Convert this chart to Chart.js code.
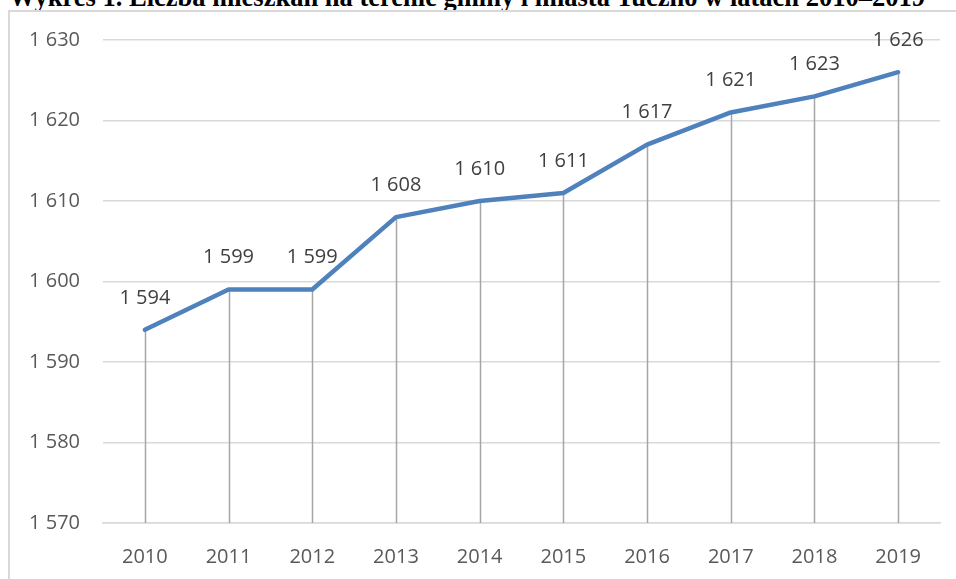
<!DOCTYPE html>
<html>
<head>
<meta charset="utf-8">
<script src="https://cdn.jsdelivr.net/npm/chart.js@4"></script>
<style>
html,body{margin:0;padding:0;background:#fff;overflow:hidden;width:956px;height:579px;}
#title{position:absolute;left:9px;top:-16px;font:bold 26.5px/26.5px "Liberation Serif","Times New Roman",serif;color:#000;white-space:nowrap;}
#box{position:absolute;left:8px;top:10px;width:960px;height:600px;border-left:2px solid #d9d9d9;border-top:2px solid #d9d9d9;}
#wrap{position:absolute;left:10px;top:12px;width:946px;height:567px;}
</style>
</head>
<body>
<div id="title">Wykres 1. Liczba mieszkań na terenie gminy i miasta Tuczno w latach 2010–2019</div>
<div id="box"></div>
<div id="wrap"><canvas id="c" width="946" height="567"></canvas></div>
<script>
const years = ['2010','2011','2012','2013','2014','2015','2016','2017','2018','2019'];
const dwellings = [1594,1599,1599,1608,1610,1611,1617,1621,1623,1626];
const yMin = 1570, yMax = 1630, yStep = 10;

const fmt = v => String(v).replace(/\B(?=(\d{3})+(?!\d))/g, '\u00a0');
const FONT = '"Open Sans", sans-serif';

const dropLines = {
  id: 'dropLines',
  beforeDatasetsDraw(chart) {
    const ctx = chart.ctx, meta = chart.getDatasetMeta(0), bottom = chart.chartArea.bottom;
    ctx.save();
    ctx.strokeStyle = '#a6a6a6';
    ctx.lineWidth = 1.5;
    meta.data.forEach(p => {
      ctx.beginPath();
      ctx.moveTo(Math.round(p.x) + 0.5, p.y);
      ctx.lineTo(Math.round(p.x) + 0.5, bottom);
      ctx.stroke();
    });
    ctx.restore();
  }
};
const dataLabels = {
  id: 'dataLabels',
  afterDatasetsDraw(chart) {
    const ctx = chart.ctx, meta = chart.getDatasetMeta(0), data = chart.data.datasets[0].data;
    ctx.save();
    ctx.font = '20px ' + FONT;
    ctx.fillStyle = '#404040';
    ctx.textAlign = 'center';
    ctx.textBaseline = 'middle';
    meta.data.forEach((p, i) => ctx.fillText(fmt(data[i]), p.x, p.y - 32));
    ctx.restore();
  }
};

new Chart(document.getElementById('c'), {
  type: 'line',
  data: {
    labels: years,
    datasets: [{
      data: dwellings,
      borderColor: '#4f81bd',
      borderWidth: 4.5,
      pointRadius: 0,
      borderCapStyle: 'round',
      borderJoinStyle: 'round',
      tension: 0,
      fill: false
    }]
  },
  options: {
    responsive: false,
    animation: false,
    layout: { padding: { top: 28, right: 16, bottom: 0, left: 0 } },
    plugins: { legend: { display: false }, tooltip: { enabled: false }, title: { display: false } },
    scales: {
      x: {
        offset: true,
        grid: { display: false, drawTicks: false },
        border: { display: true, color: '#d9d9d9', width: 1.5 },
        ticks: { color: '#595959', font: { family: FONT, size: 20 }, padding: 22, maxRotation: 0 },
        afterFit: s => { s.height = 56; s.paddingLeft = 0; s.paddingRight = 0; }
      },
      y: {
        min: yMin, max: yMax,
        grid: { color: '#d9d9d9', lineWidth: 1.5, drawTicks: false },
        border: { display: false },
        ticks: { stepSize: yStep, color: '#595959', font: { family: FONT, size: 20 }, padding: 23, callback: v => fmt(v) },
        afterFit: s => { s.width = 93; s.paddingTop = 0; s.paddingBottom = 0; }
      }
    }
  },
  plugins: [dropLines, dataLabels]
});
</script>
</body>
</html>
